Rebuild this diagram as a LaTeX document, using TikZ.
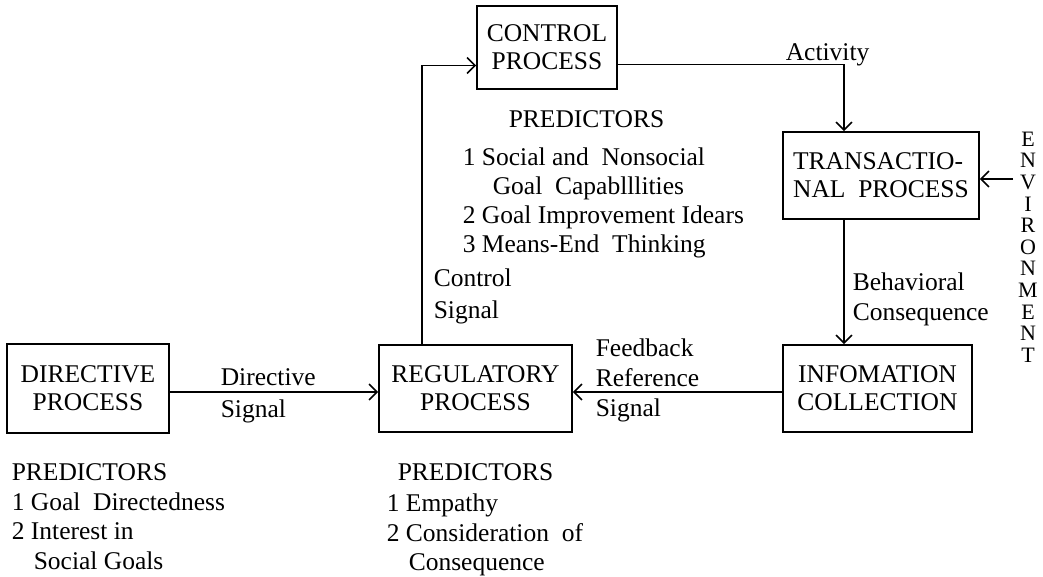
\documentclass[tikz,border=0pt]{standalone}
\usepackage{fontspec}
\setmainfont{Liberation Serif}
\usetikzlibrary{arrows.meta}
\tikzset{
  proc/.style={draw, line width=1.6pt, inner sep=0pt, align=center,
    font=\fontsize{25.5}{28}\selectfont},
  lbl/.style={anchor=north west, inner sep=0pt, align=left,
    font=\fontsize{25.5}{29.5}\selectfont},
}
\begin{document}
\begin{tikzpicture}[x=1pt, y=-1pt, line width=1.6pt,
    >={Straight Barb[length=8pt,width=16pt]}]
  \useasboundingbox (0,0) rectangle (1043,576);
  % process boxes
  \node[proc, minimum width=140pt, minimum height=83pt] (control) at (547,47.5) {CONTROL\\PROCESS};
  \node[proc, minimum width=196pt, minimum height=87pt, align=left] (trans) at (881,175.5) {TRANSACTIO-\\NAL\ \ PROCESS};
  \node[proc, minimum width=189pt, minimum height=87pt] (info) at (877.5,388.5) {INFOMATION\\COLLECTION};
  \node[proc, minimum width=193pt, minimum height=87pt] (reg) at (475.5,388.5) {REGULATORY\\PROCESS};
  \node[proc, minimum width=162pt, minimum height=89pt] (dir) at (88,388.5) {DIRECTIVE\\PROCESS};
  \node[anchor=north, inner sep=0pt, align=center, font=\fontsize{22}{21.6}\selectfont] (env) at (1028,131)
    {E\\N\\V\\I\\R\\O\\N\\M\\E\\N\\T};
  \coordinate (envin) at (1013,179);
  % labels
  \node[lbl] (actlbl) at (785,43) {Activity};
  \node[lbl] (cpred) at (508,110) {PREDICTORS};
  \node[lbl, font=\fontsize{25.5}{29}\selectfont] (clist) at (462,147)
    {1 Social and\ \ Nonsocial\\\hspace*{30pt}Goal\ \ Capablllities\\2 Goal Improvement Idears\\3 Means-End\ \ Thinking};
  \node[lbl, font=\fontsize{25.5}{32}\selectfont] (cslbl) at (433,268) {Control\\Signal};
  \node[lbl, font=\fontsize{25.5}{30}\selectfont] (fblbl) at (595,338) {Feedback\\Reference\\Signal};
  \node[lbl, font=\fontsize{25.5}{32}\selectfont] (dslbl) at (220,368) {Directive\\Signal};
  \node[lbl, font=\fontsize{25.5}{30}\selectfont] (bclbl) at (852,272) {Behavioral\\Consequence};
  \node[lbl] (dpred) at (11,463)
    {PREDICTORS\\1 Goal\ \ Directedness\\2 Interest in\\\hspace*{22pt}Social Goals};
  \node[lbl] (rpred) at (397,463) {PREDICTORS};
  \node[lbl] (rlist) at (386,493)
    {1 Empathy\\2 Consideration\ \ of\\\hspace*{22pt}Consequence};
  % connectors
  \draw[->] ([yshift=-3.5pt]dir.east) -- ([yshift=-3.5pt]reg.west);
  \draw[->] ([yshift=-3.5pt]info.west) -- ([yshift=-3.5pt]reg.east);
  \draw[->] ([xshift=-53.5pt]reg.north) |- ([yshift=-18pt]control.west);
  \draw[->] ([yshift=-17pt]control.east) -| ([xshift=-37pt]trans.north);
  \draw[->] ([xshift=-37pt]trans.south) -- ([xshift=-37pt]trans.south |- info.north);
  \draw[->] (envin) -- (envin -| trans.east);
\end{tikzpicture}
\end{document}
